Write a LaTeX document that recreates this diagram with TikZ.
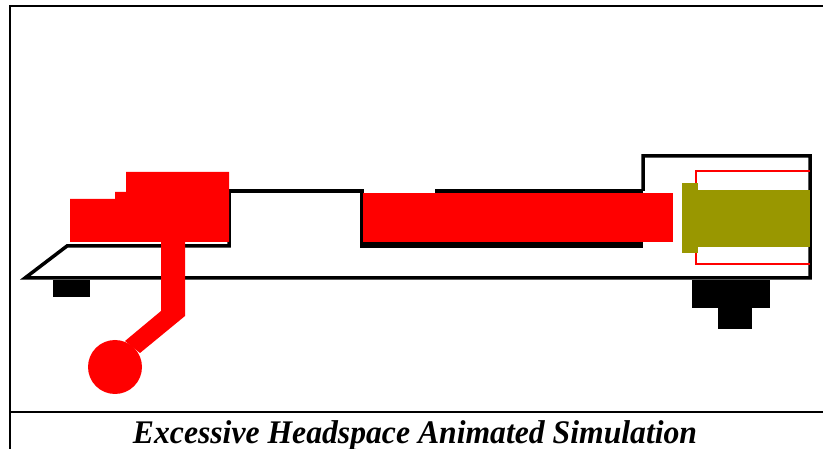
\documentclass[tikz,border=0pt]{standalone}
\usepackage{fontspec}
\setmainfont{Liberation Serif}
\usetikzlibrary{positioning}

\definecolor{brass}{RGB}{153,151,0}

\tikzset{
  outline/.style={draw=black, line width=3.5pt, line join=miter},
  steel/.style={fill=black},
  moving/.style={fill=red},
  casing/.style={fill=brass},
  framing/.style={draw=black, line width=2.6pt},
}

\begin{document}
\begin{tikzpicture}[x=1pt, y=-1pt]
  \useasboundingbox (0,0) rectangle (823,449);

  % frame
  \draw[framing] (10,449) -- (10,6) -- (823,6);
  \draw[framing] (10,412) -- (823,412);

  % receiver
  \draw[outline] (229,191) -- (362,191) -- (362,246) -- (643,246);
  \draw[outline] (643,191) -- (643,156) -- (810,156) -- (810,278)
                 -- (25,278) -- (67,246) -- (229,246) -- (229,191);
  \draw[outline] (435,191) -- (643,191);
  \fill[steel] (362,242) rectangle (643,248);

  % feet
  \fill[steel] (53,280) rectangle (90,297);
  \fill[steel] (692,280) rectangle (770,308);
  \fill[steel] (718,308) rectangle (752,329);

  % bolt and handle
  \fill[moving] (70,199) -- (115,199) -- (115,192) -- (126,192) -- (126,172)
                -- (229,172) -- (229,242) -- (70,242) -- cycle;
  \fill[moving] (161,240) -- (185,240) -- (185,316) -- (140,353) -- (125,341)
                -- (161,311) -- cycle;
  \fill[moving] (115,367) circle (27);

  % barrel
  \fill[moving] (363,193) rectangle (673,242);

  % chamber and cartridge
  \draw[red, line width=2.2pt] (810,171) -- (696,171) -- (696,264) -- (810,264);
  \fill[casing] (682,183) rectangle (698,253);
  \fill[casing] (698,190) rectangle (810,247);

  % caption
  \node[anchor=base, xscale=0.96, font=\fontsize{33}{33}\selectfont\bfseries\itshape]
    (caption) at (415,443) {Excessive Headspace Animated Simulation};
\end{tikzpicture}
\end{document}
